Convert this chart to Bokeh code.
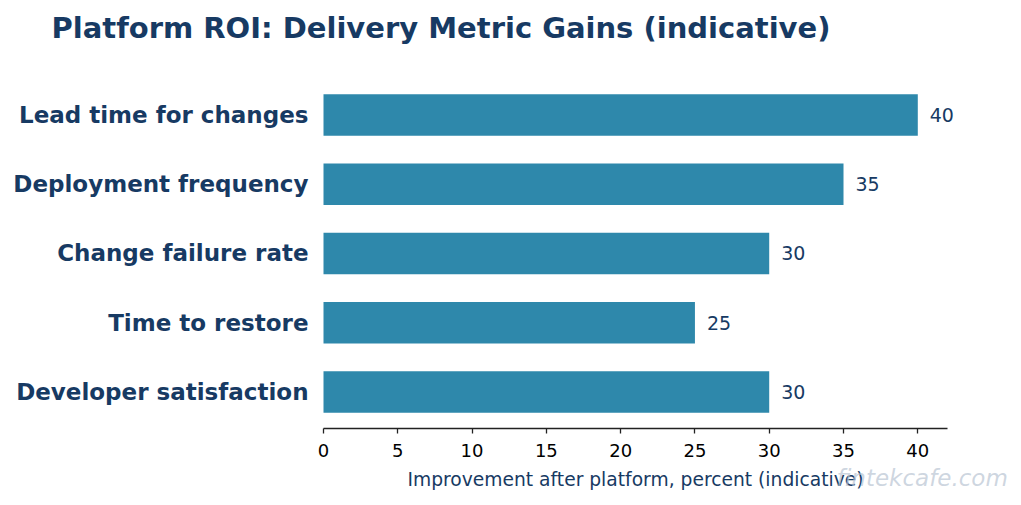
from bokeh.plotting import figure
from bokeh.models import Range1d, ColumnDataSource, LabelSet, Label, FixedTicker
from bokeh.core.properties import value
from bokeh.embed import file_html
from bokeh.resources import INLINE

# Delivery metrics, top to bottom as listed
metrics = [
    "Lead time for changes",
    "Deployment frequency",
    "Change failure rate",
    "Time to restore",
    "Developer satisfaction",
]
improvement = [40, 35, 30, 25, 30]
x_ticks = [0, 5, 10, 15, 20, 25, 30, 35, 40]

NAVY = "#173a63"
BAR = "#2e88ab"
FONT = "DejaVu Sans"

# row positions: first metric at the top
n = len(metrics)
rows = [n - 1 - i for i in range(n)]
source = ColumnDataSource(dict(row=rows, value=improvement,
                               label=[str(v) for v in improvement]))

# the plot frame runs to the right and bottom edges so the watermark
# below the axis stays inside the drawable area
p = figure(
    width=1021, height=505,
    x_range=Range1d(-0.471, 46.98),
    y_range=Range1d(-1.639, 4.902),
    output_backend="svg", toolbar_location=None,
    min_border_left=316, min_border_right=0,
    min_border_top=52, min_border_bottom=0,
)

p.hbar(y="row", right="value", left=0, height=0.6, source=source,
       color=BAR, line_color=None)

labels = LabelSet(x="value", y="row", text="label", source=source,
                  x_offset=12, text_baseline="middle", text_align="left",
                  text_color=NAVY, text_font=value(FONT),
                  text_font_size="19px")
p.add_layout(labels)

p.title.text = "Platform ROI: Delivery Metric Gains (indicative)"
p.title.text_font = FONT
p.title.text_font_size = "29px"
p.title.text_font_style = "bold"
p.title.text_color = NAVY
p.title.align = "left"
p.title.offset = -265
p.title.standoff = 16

# x axis sits just below the lowest bar
p.xaxis.fixed_location = -0.527
p.xaxis.bounds = (0, 42)
p.xaxis.ticker = FixedTicker(ticks=x_ticks)
p.xaxis.minor_tick_line_color = None
p.xaxis.major_tick_in = 0
p.xaxis.major_tick_out = 5
p.xaxis.axis_line_color = "#222222"
p.xaxis.axis_line_width = 1.3
p.xaxis.major_tick_line_color = "#222222"
p.xaxis.major_tick_line_width = 1.3
p.xaxis.major_label_text_font = FONT
p.xaxis.major_label_text_font_size = "18px"
p.xaxis.major_label_text_color = "black"
p.xaxis.major_label_standoff = 11
p.xaxis.axis_label = "Improvement after platform, percent (indicative)"
p.xaxis.axis_label_text_font = FONT
p.xaxis.axis_label_text_font_size = "18.7px"
p.xaxis.axis_label_text_font_style = "normal"
p.xaxis.axis_label_text_color = NAVY
p.xaxis.axis_label_standoff = 8

p.yaxis.ticker = FixedTicker(ticks=rows)
p.yaxis.major_label_overrides = {r: m for r, m in zip(rows, metrics)}
p.yaxis.axis_line_color = None
p.yaxis.major_tick_line_color = None
p.yaxis.minor_tick_line_color = None
p.yaxis.major_label_text_font = FONT
p.yaxis.major_label_text_font_size = "23px"
p.yaxis.major_label_text_font_style = "bold"
p.yaxis.major_label_text_color = NAVY
p.yaxis.major_label_standoff = 2

p.xgrid.grid_line_color = None
p.ygrid.grid_line_color = None
p.outline_line_color = None

# watermark
wm = Label(x=520, y=28, x_units="screen", y_units="screen",
           text="fintekcafe.com", text_font=FONT, text_font_size="23px",
           text_font_style="italic", text_color="#b8c4d2", text_alpha=0.7,
           text_baseline="middle")
p.add_layout(wm)

open("out.html", "w").write(file_html(p, INLINE))
